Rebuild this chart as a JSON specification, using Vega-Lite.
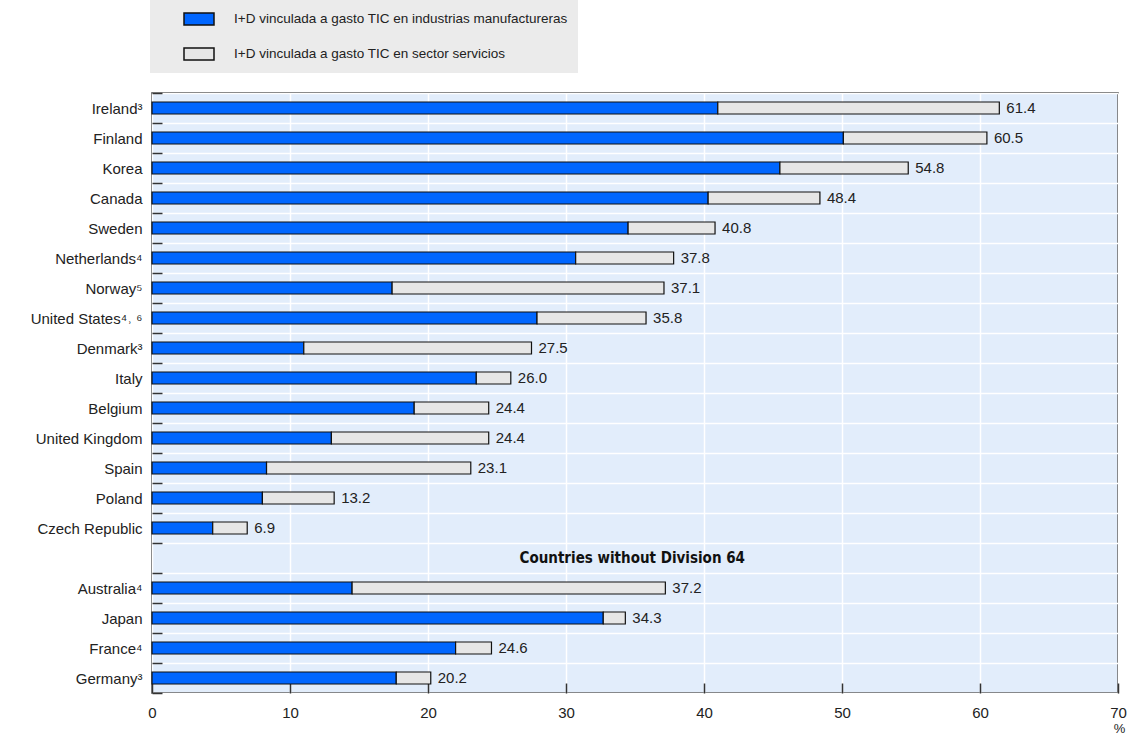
{
  "$schema": "https://vega.github.io/schema/vega-lite/v6.json",
  "width": 966,
  "height": 600,
  "autosize": {"type": "none"},
  "padding": {"left": 152, "top": 93, "right": 17, "bottom": 50},
  "background": "white",
  "config": {
    "font": "Liberation Sans",
    "view": {"fill": "#e2edfb", "stroke": "#333333", "strokeWidth": 1.5},
    "axis": {"labelColor": "#222222", "domain": false, "labelFont": "Liberation Sans"},
    "legend": {"labelFont": "Liberation Sans"}
  },
  "datasets": {
    "bars": [
      {"country": "Ireland³", "serie": "I+D vinculada a gasto TIC en industrias manufactureras", "valor": 41.0},
      {"country": "Ireland³", "serie": "I+D vinculada a gasto TIC en sector servicios", "valor": 20.4},
      {"country": "Finland", "serie": "I+D vinculada a gasto TIC en industrias manufactureras", "valor": 50.1},
      {"country": "Finland", "serie": "I+D vinculada a gasto TIC en sector servicios", "valor": 10.4},
      {"country": "Korea", "serie": "I+D vinculada a gasto TIC en industrias manufactureras", "valor": 45.5},
      {"country": "Korea", "serie": "I+D vinculada a gasto TIC en sector servicios", "valor": 9.3},
      {"country": "Canada", "serie": "I+D vinculada a gasto TIC en industrias manufactureras", "valor": 40.3},
      {"country": "Canada", "serie": "I+D vinculada a gasto TIC en sector servicios", "valor": 8.1},
      {"country": "Sweden", "serie": "I+D vinculada a gasto TIC en industrias manufactureras", "valor": 34.5},
      {"country": "Sweden", "serie": "I+D vinculada a gasto TIC en sector servicios", "valor": 6.3},
      {"country": "Netherlands⁴", "serie": "I+D vinculada a gasto TIC en industrias manufactureras", "valor": 30.7},
      {"country": "Netherlands⁴", "serie": "I+D vinculada a gasto TIC en sector servicios", "valor": 7.1},
      {"country": "Norway⁵", "serie": "I+D vinculada a gasto TIC en industrias manufactureras", "valor": 17.4},
      {"country": "Norway⁵", "serie": "I+D vinculada a gasto TIC en sector servicios", "valor": 19.7},
      {"country": "United States⁴˒ ⁶", "serie": "I+D vinculada a gasto TIC en industrias manufactureras", "valor": 27.9},
      {"country": "United States⁴˒ ⁶", "serie": "I+D vinculada a gasto TIC en sector servicios", "valor": 7.9},
      {"country": "Denmark³", "serie": "I+D vinculada a gasto TIC en industrias manufactureras", "valor": 11.0},
      {"country": "Denmark³", "serie": "I+D vinculada a gasto TIC en sector servicios", "valor": 16.5},
      {"country": "Italy", "serie": "I+D vinculada a gasto TIC en industrias manufactureras", "valor": 23.5},
      {"country": "Italy", "serie": "I+D vinculada a gasto TIC en sector servicios", "valor": 2.5},
      {"country": "Belgium", "serie": "I+D vinculada a gasto TIC en industrias manufactureras", "valor": 19.0},
      {"country": "Belgium", "serie": "I+D vinculada a gasto TIC en sector servicios", "valor": 5.4},
      {"country": "United Kingdom", "serie": "I+D vinculada a gasto TIC en industrias manufactureras", "valor": 13.0},
      {"country": "United Kingdom", "serie": "I+D vinculada a gasto TIC en sector servicios", "valor": 11.4},
      {"country": "Spain", "serie": "I+D vinculada a gasto TIC en industrias manufactureras", "valor": 8.3},
      {"country": "Spain", "serie": "I+D vinculada a gasto TIC en sector servicios", "valor": 14.8},
      {"country": "Poland", "serie": "I+D vinculada a gasto TIC en industrias manufactureras", "valor": 8.0},
      {"country": "Poland", "serie": "I+D vinculada a gasto TIC en sector servicios", "valor": 5.2},
      {"country": "Czech Republic", "serie": "I+D vinculada a gasto TIC en industrias manufactureras", "valor": 4.4},
      {"country": "Czech Republic", "serie": "I+D vinculada a gasto TIC en sector servicios", "valor": 2.5},
      {"country": "Australia⁴", "serie": "I+D vinculada a gasto TIC en industrias manufactureras", "valor": 14.5},
      {"country": "Australia⁴", "serie": "I+D vinculada a gasto TIC en sector servicios", "valor": 22.7},
      {"country": "Japan", "serie": "I+D vinculada a gasto TIC en industrias manufactureras", "valor": 32.7},
      {"country": "Japan", "serie": "I+D vinculada a gasto TIC en sector servicios", "valor": 1.6},
      {"country": "France⁴", "serie": "I+D vinculada a gasto TIC en industrias manufactureras", "valor": 22.0},
      {"country": "France⁴", "serie": "I+D vinculada a gasto TIC en sector servicios", "valor": 2.6},
      {"country": "Germany³", "serie": "I+D vinculada a gasto TIC en industrias manufactureras", "valor": 17.7},
      {"country": "Germany³", "serie": "I+D vinculada a gasto TIC en sector servicios", "valor": 2.5}
    ],
    "totals": [
      {"country": "Ireland³", "total": 61.4},
      {"country": "Finland", "total": 60.5},
      {"country": "Korea", "total": 54.8},
      {"country": "Canada", "total": 48.4},
      {"country": "Sweden", "total": 40.8},
      {"country": "Netherlands⁴", "total": 37.8},
      {"country": "Norway⁵", "total": 37.1},
      {"country": "United States⁴˒ ⁶", "total": 35.8},
      {"country": "Denmark³", "total": 27.5},
      {"country": "Italy", "total": 26.0},
      {"country": "Belgium", "total": 24.4},
      {"country": "United Kingdom", "total": 24.4},
      {"country": "Spain", "total": 23.1},
      {"country": "Poland", "total": 13.2},
      {"country": "Czech Republic", "total": 6.9},
      {"country": "Australia⁴", "total": 37.2},
      {"country": "Japan", "total": 34.3},
      {"country": "France⁴", "total": 24.6},
      {"country": "Germany³", "total": 20.2}
    ]
  },
  "layer": [
    {
      "data": {"name": "bars"},
      "mark": {"type": "bar", "size": 12, "stroke": "#111111", "strokeWidth": 1.2},
      "encoding": {
        "y": {
          "field": "country",
          "type": "nominal",
          "sort": null,
          "scale": {
            "domain": ["Ireland³", "Finland", "Korea", "Canada", "Sweden", "Netherlands⁴", "Norway⁵", "United States⁴˒ ⁶", "Denmark³", "Italy", "Belgium", "United Kingdom", "Spain", "Poland", "Czech Republic", "gap", "Australia⁴", "Japan", "France⁴", "Germany³"],
            "paddingInner": 0,
            "paddingOuter": 0
          },
          "axis": {
            "title": null,
            "tickBand": "extent",
            "grid": true,
            "gridColor": "white",
            "gridWidth": 1.5,
            "ticks": true,
            "tickSize": -10,
            "tickColor": "#333333",
            "tickWidth": 1.5,
            "labelPadding": 20,
            "labelFontSize": 15,
            "labelExpr": "datum.value === 'gap' ? '' : datum.value"
          }
        },
        "x": {
          "field": "valor",
          "type": "quantitative",
          "stack": "zero",
          "scale": {"domain": [0, 70], "nice": false},
          "axis": {
            "values": [0, 10, 20, 30, 40, 50, 60, 70],
            "grid": true,
            "gridColor": "white",
            "gridWidth": 1.5,
            "tickSize": -10,
            "tickColor": "#333333",
            "tickWidth": 1.5,
            "labelPadding": 22,
            "labelFontSize": 15,
            "labelFlush": false,
            "title": "%",
            "titleFontSize": 13,
            "titleFontWeight": "normal",
            "titleColor": "#222222",
            "titleX": 967,
            "titleY": 35,
            "titleAlign": "center",
            "titleBaseline": "middle"
          }
        },
        "color": {
          "field": "serie",
          "type": "nominal",
          "scale": {
            "domain": ["I+D vinculada a gasto TIC en industrias manufactureras", "I+D vinculada a gasto TIC en sector servicios"],
            "range": ["#0066ff", "#e6e6e6"]
          },
          "legend": {
            "title": null,
            "orient": "none",
            "legendX": -2,
            "legendY": -93,
            "direction": "vertical",
            "fillColor": "#ebebeb",
            "padding": 10,
            "rowPadding": 17,
            "symbolType": "M1.875,-0.75H5.625V0.75H1.875Z",
            "symbolSize": 256,
            "symbolStrokeColor": "#111111",
            "symbolStrokeWidth": 1.5,
            "labelOffset": 56,
            "labelFontSize": 13.5,
            "labelColor": "#222222",
            "labelLimit": 600
          }
        }
      }
    },
    {
      "data": {"name": "totals"},
      "mark": {"type": "text", "align": "left", "baseline": "middle", "dx": 7, "fontSize": 15, "color": "#222222"},
      "encoding": {
        "y": {"field": "country", "type": "nominal", "sort": null},
        "x": {"field": "total", "type": "quantitative"},
        "text": {"field": "total", "type": "quantitative", "format": ".1f"}
      }
    },
    {
      "data": {"values": [{"note": "Countries without Division 64"}]},
      "mark": {"type": "text", "align": "center", "baseline": "middle", "fontSize": 15, "fontWeight": "bold", "font": "Liberation Sans Narrow, DejaVu Sans Condensed, Liberation Sans", "color": "#111111"},
      "encoding": {
        "y": {"datum": "gap", "type": "nominal"},
        "x": {"datum": 34.8, "type": "quantitative"},
        "text": {"field": "note", "type": "nominal"}
      }
    }
  ]
}
